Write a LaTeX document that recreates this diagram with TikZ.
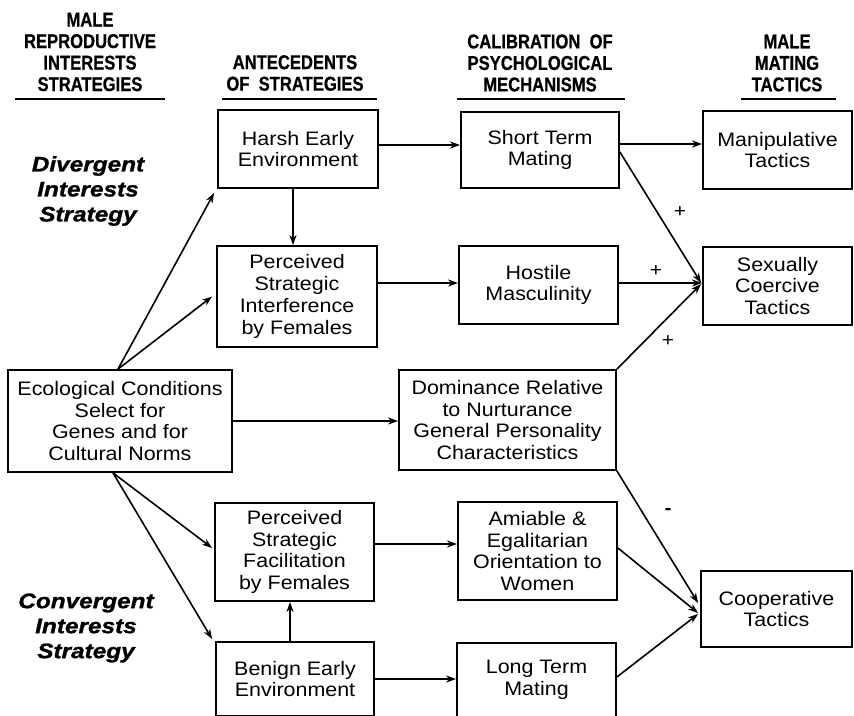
\documentclass[tikz,border=0pt]{standalone}
\usepackage{fontspec}
\setmainfont{Liberation Sans}[FakeStretch=1.1]
\newfontfamily\hdfont{Liberation Sans}[FakeStretch=0.83, BoldFeatures={FakeBold=0.6}]
\newfontfamily\lbfont{Liberation Sans}[FakeStretch=1.16, BoldItalicFeatures={FakeBold=1.2}]
\usetikzlibrary{arrows.meta,calc}
\begin{document}
\begin{tikzpicture}[x=1pt,y=-1pt,
  box/.style={draw, line width=1.8pt, inner sep=0pt, align=center, font=\fontsize{19.5}{21.7}\selectfont},
  hdr/.style={align=center, inner sep=0pt, font=\hdfont\bfseries\fontsize{20}{21.5}\selectfont},
  lbl/.style={align=center, inner sep=0pt, font=\lbfont\bfseries\itshape\fontsize{21}{25}\selectfont},
  arr/.style={line width=1.6pt, -{Stealth[length=10pt,width=7pt,inset=3pt]}},
  sgn/.style={inner sep=0pt, font=\fontsize{19}{21}\selectfont},
  uline/.style={line width=1.8pt}
]
\useasboundingbox (0,0) rectangle (854,715);
\clip (0,0) rectangle (854,715);

% headers
\node[hdr] (h1) at (90,52) {MALE\\REPRODUCTIVE\\INTERESTS\\STRATEGIES};
\node[hdr] (h2) at (295,73) {ANTECEDENTS\\OF\ \ STRATEGIES};
\node[hdr] (h3) at (540,63) {CALIBRATION\ \ OF\\PSYCHOLOGICAL\\MECHANISMS};
\node[hdr] (h4) at (787,63) {MALE\\MATING\\TACTICS};
\draw[uline] (15,99) -- (165,99);
\draw[uline] (222,99) -- (377,99);
\draw[uline] (457,99) -- (625,99);
\draw[uline] (741,99) -- (836,99);

% side labels
\node[lbl] (div) at (88,191) {Divergent\\Interests\\Strategy};
\node[lbl] (conv) at (86,628) {Convergent\\Interests\\Strategy};

% boxes
\node[box, minimum width=224pt, minimum height=102pt] (eco) at (120,421) {Ecological Conditions\\Select for\\Genes and for\\Cultural Norms};
\node[box, minimum width=160pt, minimum height=78pt] (harsh) at (298,149) {Harsh Early\\Environment};
\node[box, minimum width=160pt, minimum height=101pt] (interf) at (297,296.5) {Perceived\\Strategic\\Interference\\by Females};
\node[box, minimum width=159pt, minimum height=98pt] (facil) at (294.5,552) {Perceived\\Strategic\\Facilitation\\by Females};
\node[box, minimum width=158pt, minimum height=74pt] (benign) at (295,679) {Benign Early\\Environment};
\node[box, minimum width=158pt, minimum height=76pt] (short) at (540,150) {Short Term\\Mating};
\node[box, minimum width=159pt, minimum height=78pt] (hostile) at (538.5,285) {Hostile\\Masculinity};
\node[box, minimum width=217pt, minimum height=100pt] (domin) at (507.5,420) {Dominance Relative\\to Nurturance\\General Personality\\Characteristics};
\node[box, minimum width=159pt, minimum height=98pt] (amiable) at (537.5,551) {Amiable \&\\Egalitarian\\Orientation to\\Women};
\node[box, minimum width=159pt, minimum height=74pt] (longterm) at (536.5,680) {Long Term\\Mating};
\node[box, minimum width=149pt, minimum height=78pt] (manip) at (777.5,150) {Manipulative\\Tactics};
\node[box, minimum width=149pt, minimum height=78pt] (sexual) at (777.5,286) {Sexually\\Coercive\\Tactics};
\node[box, minimum width=151pt, minimum height=76pt] (coop) at (776.5,609) {Cooperative\\Tactics};

% connectors
\coordinate (ecoTop) at ([xshift=-2pt]eco.north);
\coordinate (ecoBot) at ([xshift=-7pt]eco.south);
\draw[arr] (ecoTop) -- ([xshift=-3pt,yshift=-4pt]harsh.south west);
\draw[arr] (ecoTop) -- ([xshift=-4pt]interf.west);
\draw[arr] ([xshift=-5pt]harsh.south) -- ([xshift=-5pt]harsh.south |- interf.north);
\draw[arr] (eco.east) -- (eco.east -| domin.west);
\draw[arr] (ecoBot) -- ([xshift=-2pt,yshift=4pt]facil.west);
\draw[arr] (ecoBot) -- ([xshift=-3pt,yshift=2pt]benign.north west);
\draw[arr] ([xshift=-5pt]benign.north) -- ([xshift=-5pt]benign.north |- facil.south);

\draw[arr] ([yshift=4pt]harsh.east) -- ([yshift=4pt]harsh.east -| short.west);
\draw[arr] ([yshift=2pt]hostile.west -| interf.east) -- ([yshift=2pt]hostile.west);
\draw[arr] ([yshift=8pt]facil.east) -- ([yshift=8pt]facil.east -| amiable.west);
\draw[arr] (benign.east) -- (benign.east -| longterm.west);

\draw[arr] ([yshift=6pt]short.east) -- ([yshift=6pt]short.east -| manip.west);
\draw[arr] ([yshift=-2pt]short.east) -- ([xshift=-1pt,yshift=3pt]sexual.west);
\draw[arr] ([yshift=2pt]hostile.east) -- ([yshift=2pt]hostile.east -| sexual.west);
\draw[arr] (domin.north east) -- ([xshift=-1pt,yshift=2pt]sexual.west);
\draw[arr] (domin.south east) -- ([xshift=-2pt,yshift=6pt]coop.west);
\draw[arr] ([yshift=3pt]amiable.east) -- ([xshift=-2pt,yshift=-4pt]coop.west);
\draw[arr] ([yshift=3pt]longterm.east) -- ([xshift=-2pt,yshift=-5pt]coop.west);

% signs
\node[sgn] (p1) at (680,212) {+};
\node[sgn] (p2) at (656,271) {+};
\node[sgn] (p3) at (668,341) {+};
\node[sgn, font=\bfseries\fontsize{19}{21}\selectfont] (m1) at (668,511) {-};
\end{tikzpicture}
\end{document}
